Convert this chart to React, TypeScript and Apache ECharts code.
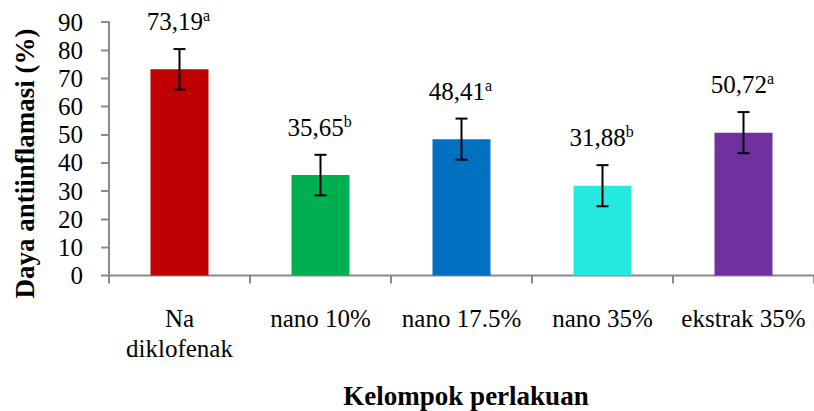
import React, { useEffect, useRef } from "react";
import * as echarts from "echarts";

const categories = ["Na\ndiklofenak", "nano 10%", "nano 17.5%", "nano 35%", "ekstrak 35%"];
const values = [73.19, 35.65, 48.41, 31.88, 50.72];
const errors = [7.2, 7.2, 7.3, 7.3, 7.3];
const valueLabels = ["73,19", "35,65", "48,41", "31,88", "50,72"];
const letters = ["a", "b", "a", "b", "a"];
const colors = ["#C00000", "#00B050", "#0070C0", "#26E9E0", "#7030A0"];
const yTicks = { min: 0, max: 90, interval: 10 };

const FONT = "Liberation Serif";
const AXIS = "#8a8a8a";
const S = 2; // chart is drawn at 2x and scaled down by CSS

export default function App() {
  const ref = useRef<HTMLDivElement>(null);
  useEffect(() => {
    document.body.style.margin = "0";
    const chart = echarts.init(ref.current!, null, { renderer: "svg" });
    chart.setOption({
      animation: false,
      backgroundColor: "#ffffff",
      textStyle: { fontFamily: FONT, fontWeight: 400 },
      grid: { left: 109 * S, top: 22 * S, width: 714 * S, height: 253.5 * S, containLabel: false },
      xAxis: {
        type: "category",
        data: categories,
        boundaryGap: true,
        axisLine: { show: true, lineStyle: { color: AXIS, width: 2 * S } },
        axisTick: { show: true, length: 8 * S, lineStyle: { color: AXIS, width: 2 * S } },
        axisLabel: {
          interval: 0,
          margin: 28 * S,
          color: "#000",
          fontFamily: FONT,
          fontWeight: 400,
          fontSize: 25 * S,
          lineHeight: 30 * S,
          verticalAlign: "top",
        },
      },
      yAxis: {
        type: "value",
        min: yTicks.min,
        max: yTicks.max,
        interval: yTicks.interval,
        splitLine: { show: false },
        axisLine: { show: true, lineStyle: { color: AXIS, width: 2 * S } },
        axisTick: { show: true, length: 8 * S, lineStyle: { color: AXIS, width: 2 * S } },
        axisLabel: { margin: 26 * S, color: "#000", fontFamily: FONT, fontWeight: 400, fontSize: 25 * S },
      },
      series: [
        {
          type: "bar",
          barWidth: 58 * S,
          data: values.map((v, i) => ({ value: v, itemStyle: { color: colors[i] } })),
        },
        {
          type: "custom",
          clip: false,
          z: 5,
          data: values.map((v, i) => [i, v, errors[i]]),
          renderItem: (params: any, api: any) => {
            const i = api.value(0);
            const v = api.value(1);
            const e = api.value(2);
            const top = api.coord([i, v + e]);
            const bot = api.coord([i, v - e]);
            const cx = top[0];
            const cap = 6 * S;
            const ls = { stroke: "#000", lineWidth: 2 * S };
            return {
              type: "group",
              children: [
                { type: "line", shape: { x1: cx, y1: top[1], x2: cx, y2: bot[1] }, style: ls },
                { type: "line", shape: { x1: cx - cap, y1: top[1], x2: cx + cap, y2: top[1] }, style: ls },
                { type: "line", shape: { x1: cx - cap, y1: bot[1], x2: cx + cap, y2: bot[1] }, style: ls },
                {
                  type: "text",
                  x: cx - 1 * S,
                  y: top[1] - 13.5 * S,
                  style: {
                    text: `{v|${valueLabels[params.dataIndex]}}{s|${letters[params.dataIndex]}}`,
                    align: "center",
                    verticalAlign: "bottom",
                    fill: "#000",
                    rich: {
                      v: { fontFamily: FONT, fontWeight: 400, fontSize: 25 * S, lineHeight: 28 * S, fill: "#000" },
                      s: { fontFamily: FONT, fontWeight: 400, fontSize: 16 * S, lineHeight: 18 * S, verticalAlign: "top", fill: "#000" },
                    },
                  },
                },
              ],
            };
          },
        },
      ],
      graphic: [
        {
          type: "text",
          x: 25 * S,
          y: 163.5 * S,
          rotation: Math.PI / 2,
          style: {
            text: "Daya antiinflamasi (%)",
            fontFamily: FONT,
            fontWeight: "bold",
            fontSize: 27 * S,
            fill: "#000",
            align: "center",
            verticalAlign: "middle",
          },
        },
        {
          type: "text",
          x: 466 * S,
          y: 396 * S,
          style: {
            text: "Kelompok perlakuan",
            fontFamily: FONT,
            fontWeight: "bold",
            fontSize: 27 * S,
            fill: "#000",
            align: "center",
            verticalAlign: "middle",
          },
        },
      ],
    });
    return () => chart.dispose();
  }, []);
  return (
    <div style={{ width: 814, height: 411, overflow: "hidden", position: "relative" }}>
      <div style={{ width: 814 * S, height: 411 * S, transform: `scale(${1 / S})`, transformOrigin: "0 0" }}>
        <div ref={ref} style={{ width: 814 * S, height: 411 * S }} />
      </div>
    </div>
  );
}
